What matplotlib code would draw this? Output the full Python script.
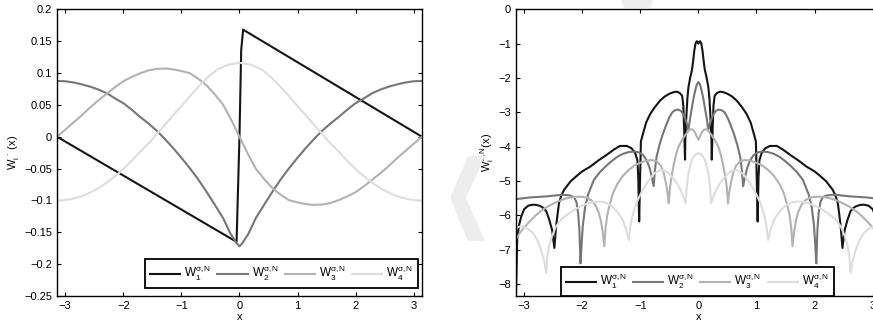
import numpy as np
import matplotlib
matplotlib.use("Agg")
import matplotlib.pyplot as plt
from matplotlib.patches import Polygon

plt.rcParams['font.family'] = ['Liberation Sans', 'DejaVu Sans']
plt.rcParams['mathtext.fontset'] = 'custom'
plt.rcParams['mathtext.rm'] = 'Liberation Sans'
plt.rcParams['mathtext.it'] = 'Liberation Sans:italic'
plt.rcParams['mathtext.sf'] = 'Liberation Sans'

# ---- left panel: W_i (x) ----
w1_x = [-np.pi, -0.05, 0.0, 0.03, 0.063, np.pi]
w1_y = [0.0, -0.165, 0.0, 0.136, 0.168, 0.0]

# W2 is even: values for x >= 0
w2_xh = [0.0, 0.05, 0.15, 0.28, 0.43, 0.57, 0.71, 0.85, 1.0, 1.14, 1.28, 1.42, 1.57, 1.71,
         1.85, 1.99, 2.14, 2.28, 2.43, 2.57, 2.71, 2.85, 3.0, 3.1416]
w2_yh = [-0.172, -0.167, -0.153, -0.128, -0.106, -0.086, -0.067, -0.050, -0.033, -0.018, -0.004,
         0.009, 0.021, 0.031, 0.042, 0.052, 0.060, 0.068, 0.074, 0.0785, 0.082, 0.085, 0.087, 0.0875]

# W3 is odd: values for x <= 0
w3_xh = [-3.1416, -3.0, -2.85, -2.71, -2.57, -2.43, -2.28, -2.14, -2.0, -1.85, -1.71, -1.57,
         -1.42, -1.25, -1.1, -0.95, -0.85, -0.71, -0.57, -0.43, -0.28, -0.14, 0.0]
w3_yh = [0.0, 0.011, 0.023, 0.034, 0.046, 0.057, 0.068, 0.078, 0.087, 0.094, 0.0995, 0.104,
         0.1065, 0.107, 0.105, 0.102, 0.0995, 0.091, 0.081, 0.067, 0.050, 0.026, 0.0]

# W4 is even: values for x >= 0
w4_xh = [0.0, 0.2, 0.39, 0.55, 0.68, 0.85, 1.0, 1.14, 1.28, 1.39, 1.55, 1.71, 1.9, 2.08, 2.3,
         2.45, 2.6, 2.75, 2.9, 3.1416]
w4_yh = [0.116, 0.113, 0.105, 0.093, 0.081, 0.064, 0.048, 0.034, 0.019, 0.008, -0.009, -0.0235,
         -0.042, -0.0575, -0.073, -0.082, -0.089, -0.0945, -0.098, -0.101]

r1_x = [-3.1416, -3.13, -3.12, -3.09, -3.05, -3.0, -2.93, -2.85, -2.78, -2.71, -2.66, -2.62,
        -2.57, -2.52, -2.48, -2.45, -2.42, -2.40, -2.36, -2.31, -2.2, -2.1, -2.0, -1.86, -1.72,
        -1.58, -1.45, -1.35, -1.23, -1.15, -1.09, -1.05, -1.035, -1.02, -1.0, -0.99, -0.95,
        -0.9, -0.83, -0.75, -0.66, -0.58, -0.5, -0.42, -0.37, -0.32, -0.28, -0.26, -0.245,
        -0.23, -0.225, -0.21, -0.19, -0.17, -0.14, -0.11, -0.09, -0.07, -0.05, -0.03, -0.015, 0.0]
r1_y = [-8.3, -7.5, -6.7, -6.3, -6.03, -5.82, -5.72, -5.69, -5.7, -5.74, -5.8, -5.88,
        -6.12, -6.42, -6.95, -6.32, -5.9, -5.64, -5.42, -5.25, -5.01, -4.86, -4.72, -4.58, -4.4,
        -4.24, -4.08, -3.98, -3.98, -4.05, -4.18, -4.4, -4.9, -6.18, -4.6, -3.85, -3.6,
        -3.3, -3.05, -2.85, -2.66, -2.54, -2.46, -2.41, -2.40, -2.44, -2.52, -2.8, -3.5,
        -4.38, -3.8, -3.2, -2.6, -2.25, -1.98, -1.76, -1.5, -1.2, -1.0, -0.93, -0.95, -1.0]

r2_x = [-3.1416, -2.9, -2.62, -2.34, -2.22, -2.14, -2.1, -2.07, -2.05, -2.03, -2.01, -1.99,
        -1.95, -1.9, -1.8, -1.7, -1.6, -1.5, -1.4, -1.3, -1.2, -1.1, -1.02, -0.95, -0.89, -0.84,
        -0.8, -0.77, -0.75, -0.72, -0.67, -0.61, -0.55, -0.5, -0.45, -0.4, -0.35, -0.3, -0.26,
        -0.22, -0.19, -0.17, -0.15, -0.12, -0.09, -0.06, -0.03, 0.0]
r2_y = [-5.53, -5.48, -5.45, -5.40, -5.42, -5.47, -5.62, -5.95, -6.4, -7.4, -6.8, -6.3,
        -5.75, -5.4, -4.97, -4.75, -4.58, -4.43, -4.3, -4.21, -4.16, -4.14, -4.17, -4.25, -4.4, -4.62,
        -4.9, -5.15, -4.7, -4.3, -3.95, -3.62, -3.35, -3.15, -3.0, -2.94, -2.92, -2.96, -3.06,
        -3.22, -3.38, -3.51, -3.25, -2.95, -2.65, -2.4, -2.2, -2.12]

r3_x = [-3.1416, -3.07, -3.0, -2.9, -2.8, -2.7, -2.6, -2.5, -2.4, -2.3, -2.2, -2.1, -2.0,
        -1.92, -1.85, -1.78, -1.72, -1.68, -1.65, -1.62, -1.6, -1.57, -1.53, -1.47, -1.4, -1.3,
        -1.2, -1.1, -1.0, -0.9, -0.8, -0.72, -0.65, -0.6, -0.56, -0.53, -0.51, -0.49, -0.46,
        -0.42, -0.38, -0.34, -0.28, -0.22, -0.15, -0.1, -0.06, -0.03, 0.0]
r3_y = [-6.7, -6.5, -6.35, -6.17, -6.0, -5.86, -5.75, -5.66, -5.58, -5.52, -5.48, -5.46, -5.46,
        -5.49, -5.55, -5.68, -5.9, -6.15, -6.45, -6.9, -6.4, -6.0, -5.7, -5.35, -5.1, -4.85,
        -4.68, -4.55, -4.47, -4.41, -4.39, -4.43, -4.55, -4.75, -5.05, -5.35, -5.65, -5.2, -4.85,
        -4.48, -4.2, -3.99, -3.8, -3.65, -3.5, -3.5, -3.58, -3.7, -3.8]

r4_x = [-3.1416, -3.08, -3.02, -2.95, -2.85, -2.78, -2.71, -2.66, -2.62, -2.6, -2.57, -2.52,
        -2.45, -2.35, -2.22, -2.1, -2.0, -1.9, -1.8, -1.7, -1.6, -1.5, -1.42, -1.35, -1.3, -1.25,
        -1.2, -1.17, -1.13, -1.07, -1.0, -0.92, -0.85, -0.76, -0.66, -0.58, -0.5, -0.43, -0.37,
        -0.31, -0.26, -0.22, -0.2, -0.17, -0.14, -0.11, -0.08, -0.04, 0.0]
r4_y = [-6.37, -6.33, -6.32, -6.38, -6.51, -6.7, -7.0, -7.3, -7.67, -7.2, -6.9, -6.6,
        -6.32, -6.1, -5.93, -5.8, -5.72, -5.65, -5.61, -5.6, -5.63, -5.72, -5.85, -6.0, -6.15, -6.38,
        -6.72, -6.3, -5.98, -5.65, -5.4, -5.15, -4.97, -4.78, -4.68, -4.7, -4.8, -4.93, -5.07,
        -5.25, -5.45, -5.65, -5.15, -4.77, -4.55, -4.38, -4.28, -4.22, -4.19]

labels = [r'$\mathregular{W_1^{\sigma,N}}$', r'$\mathregular{W_2^{\sigma,N}}$',
          r'$\mathregular{W_3^{\sigma,N}}$', r'$\mathregular{W_4^{\sigma,N}}$']
colors = ['#151515', '#767676', '#b2b2b2', '#dddddd']
xtick_labels = ['\u22123', '\u22122', '\u22121', '0', '1', '2', '3']


def even(xs, ys):
    # mirror a half given for x >= 0 (or x <= 0) into a symmetric curve
    xs = list(xs)
    ys = list(ys)
    if xs[0] == 0.0:
        return [-v for v in xs[:0:-1]] + xs, ys[:0:-1] + ys
    return xs + [-v for v in xs[-2::-1]], ys + ys[-2::-1]


def odd(xs, ys):
    xs = list(xs)
    ys = list(ys)
    return xs + [-v for v in xs[-2::-1]], ys + [-v for v in ys[-2::-1]]


def style_axes(ax):
    ax.tick_params(direction='in', top=True, right=True, labelsize=8, length=3, width=0.8)
    for s in ax.spines.values():
        s.set_linewidth(1.0)
    ax.set_xlabel('x', fontsize=8, labelpad=1)
    ax.set_xlim(-np.pi, np.pi)
    ax.set_xticks(range(-3, 4))
    ax.set_xticklabels(xtick_labels)


def add_legend(ax, **kw):
    leg = ax.legend(ncol=4, fontsize=8.5, frameon=True, fancybox=False, edgecolor='black',
                    framealpha=1, handlelength=2.55, columnspacing=0.5, handletextpad=0.35,
                    borderpad=0.4, borderaxespad=0.0, **kw)
    leg.get_frame().set_linewidth(1.3)
    return leg


fig = plt.figure(figsize=(8.73, 3.24), dpi=100)

# faint watermark shapes
def px_poly(pts):
    return [(x / 873.0, 1.0 - y / 324.0) for x, y in pts]

fig.patches.append(Polygon(px_poly([(468, 156), (485, 156), (466, 198), (485, 241), (468, 241),
                                    (450, 198)]), closed=True, transform=fig.transFigure,
                           facecolor='#ededed', edgecolor='none', zorder=0))
fig.patches.append(Polygon(px_poly([(621, 0), (653, 0), (650, 8), (624, 8)]), closed=True,
                           transform=fig.transFigure, facecolor='#ededed', edgecolor='none',
                           zorder=0))

ax1 = fig.add_axes([0.0653, 0.0864, 0.418, 0.885])
curves1 = [(w1_x, w1_y), even(w2_xh, w2_yh), odd(w3_xh, w3_yh), even(w4_xh, w4_yh)]
for (xs, ys), c, lab in zip(curves1, colors, labels):
    ax1.plot(xs, ys, color=c, lw=1.5, label=lab)
ax1.set_ylim(-0.25, 0.2)
ax1.set_yticks([-0.25, -0.2, -0.15, -0.1, -0.05, 0, 0.05, 0.1, 0.15, 0.2])
ax1.set_yticklabels(['\u22120.25', '\u22120.2', '\u22120.15', '\u22120.1', '\u22120.05',
                     '0', '0.05', '0.1', '0.15', '0.2'])
ax1.set_ylabel(r'$\mathregular{W_i^{\ \cdot}\ (x)}$', fontsize=8, labelpad=2)
style_axes(ax1)
add_legend(ax1, loc='lower right', bbox_to_anchor=(0.99, 0.028))

ax2 = fig.add_axes([0.591, 0.0864, 0.418, 0.885])
curves2 = [even(r1_x, r1_y), even(r2_x, r2_y), even(r3_x, r3_y), even(r4_x, r4_y)]
for (xs, ys), c, lab in zip(curves2, colors, labels):
    ax2.plot(xs, ys, color=c, lw=1.5, label=lab)
ax2.set_ylim(-8.35, 0)
ax2.set_yticks(range(-8, 1))
ax2.set_yticklabels(['\u22128', '\u22127', '\u22126', '\u22125', '\u22124', '\u22123', '\u22122',
                     '\u22121', '0'])
ax2.set_ylabel(r'$\mathregular{W_i^{\sigma,N}(x)}$', fontsize=8, labelpad=2)
style_axes(ax2)
add_legend(ax2, loc='lower center', bbox_to_anchor=(0.497, 0.0))

fig.savefig('out.png', dpi=100)
